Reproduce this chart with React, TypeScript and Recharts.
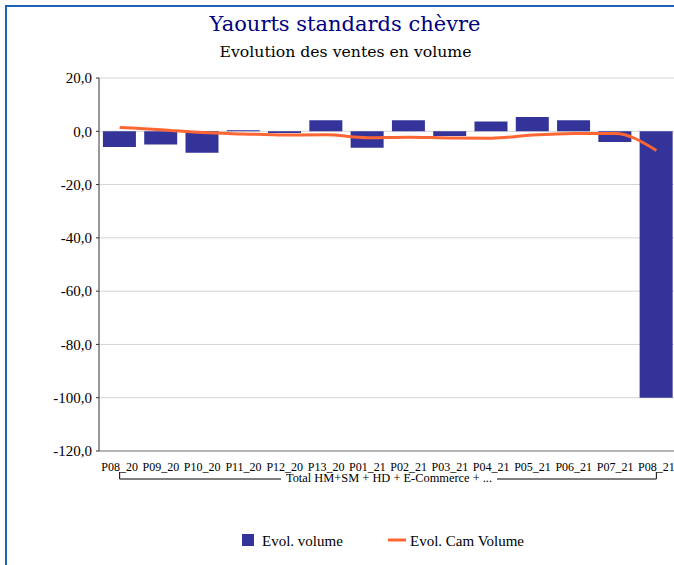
import React from 'react';
import { ComposedChart, Bar, Line, XAxis, YAxis, CartesianGrid } from 'recharts';

// periods (x categories)
const periods = [
  'P08_20', 'P09_20', 'P10_20', 'P11_20', 'P12_20', 'P13_20', 'P01_21',
  'P02_21', 'P03_21', 'P04_21', 'P05_21', 'P06_21', 'P07_21', 'P08_21',
];

// Evol. volume (bars)
const evolVolume = [-5.9, -5.0, -8.1, 0.4, -0.6, 4.1, -6.2, 4.1, -1.8, 3.7, 5.4, 4.1, -4.0, -100.0];

// Evol. Cam Volume (line)
const evolCamVolume = [1.4, 0.6, -0.5, -1.0, -1.4, -1.3, -2.4, -2.2, -2.5, -2.6, -1.4, -0.8, -0.8, -7.2];

const yTicks = [20, 0, -20, -40, -60, -80, -100, -120];
const groupLabel = 'Total HM+SM + HD + E-Commerce + ...';

const data = periods.map((p, i) => ({ period: p, vol: evolVolume[i], cam: evolCamVolume[i] }));

const BLUE = '#333399';
const ORANGE = '#ff6633';
const SERIF = '"Liberation Serif", "Times New Roman", serif';
const SERIF_WIDE = '"DejaVu Serif", serif';

const fmt = (v: number) => v.toFixed(1).replace('.', ',');

const PeriodTick = (props: any) => {
  const { x, y, payload } = props;
  return (
    <text x={x} y={y + 17.5} textAnchor="middle" fontFamily={SERIF} fontSize={12} fill="#000">
      {payload.value}
    </text>
  );
};

// bracket under the period labels, with the group name in the middle
const GroupBracket = (props: any) => {
  const vb = props.viewBox;
  if (!vb) return null;
  const band = vb.width / periods.length;
  const x1 = vb.x + band / 2;
  const x2 = vb.x + vb.width - band / 2;
  const cx = (x1 + x2) / 2 + 1;
  const top = vb.y + 21;
  const bottom = vb.y + 28;
  return (
    <g>
      <polyline
        points={`${x1},${top} ${x1},${bottom} ${x2},${bottom} ${x2},${top}`}
        fill="none"
        stroke="#000"
        strokeWidth={1}
      />
      <rect x={cx - 108} y={vb.y + 20} width={216} height={13} fill="#fff" />
      <text x={cx} y={vb.y + 30.5} textAnchor="middle" fontFamily={SERIF} fontSize={12.4} fill="#000">
        {groupLabel}
      </text>
    </g>
  );
};

export default function App() {
  return (
    <div style={{ position: 'fixed', left: 0, top: 0, width: 674, height: 565, overflow: 'hidden', background: '#fff' }}>
      <div
        style={{
          position: 'absolute', left: 5, top: 5, width: 720, height: 600,
          borderLeft: '2px solid #1c63b7', borderTop: '2px solid #1c63b7',
        }}
      />
      <div style={{ position: 'absolute', left: 0, top: 0 }}>
        <ComposedChart
          width={680}
          height={565}
          data={data}
          margin={{ top: 78, right: 3, bottom: 0, left: 0 }}
          barCategoryGap="9.5%"
        >
          <CartesianGrid horizontal vertical={false} stroke="#d4d4d4" />
          <XAxis
            dataKey="period"
            height={114}
            interval={0}
            tickLine={false}
            tickSize={0}
            tick={<PeriodTick />}
            axisLine={{ stroke: '#7f7f7f' }}
            label={<GroupBracket />}
          />
          <YAxis
            width={99}
            domain={[-120, 20]}
            ticks={yTicks}
            interval={0}
            tickFormatter={fmt}
            tickSize={3}
            tickMargin={4}
            tick={{ fontFamily: SERIF, fontSize: 15, fill: '#000' }}
            axisLine={{ stroke: '#333' }}
            tickLine={{ stroke: '#333' }}
          />
          <Bar dataKey="vol" name="Evol. volume" fill={BLUE} isAnimationActive={false} />
          <Line
            dataKey="cam"
            name="Evol. Cam Volume"
            type="monotone"
            stroke={ORANGE}
            strokeWidth={3}
            dot={false}
            activeDot={false}
            isAnimationActive={false}
          />
        </ComposedChart>
      </div>
      <svg width={674} height={565} style={{ position: 'absolute', left: 0, top: 0, pointerEvents: 'none' }}>
        <text x={345} y={31} textAnchor="middle" fontFamily={SERIF_WIDE} fontSize={21} fill="#000080">
          Yaourts standards chèvre
        </text>
        <text x={345.5} y={57} textAnchor="middle" fontFamily={SERIF_WIDE} fontSize={15.7} fill="#000">
          Evolution des ventes en volume
        </text>
        <rect x={242} y={534} width={12} height={12} fill={BLUE} />
        <text x={262} y={545.5} fontFamily={SERIF} fontSize={15} fill="#000">Evol. volume</text>
        <line x1={388} y1={540} x2={406} y2={540} stroke={ORANGE} strokeWidth={3} />
        <text x={410} y={545.5} fontFamily={SERIF} fontSize={15} fill="#000">Evol. Cam Volume</text>
      </svg>
    </div>
  );
}
